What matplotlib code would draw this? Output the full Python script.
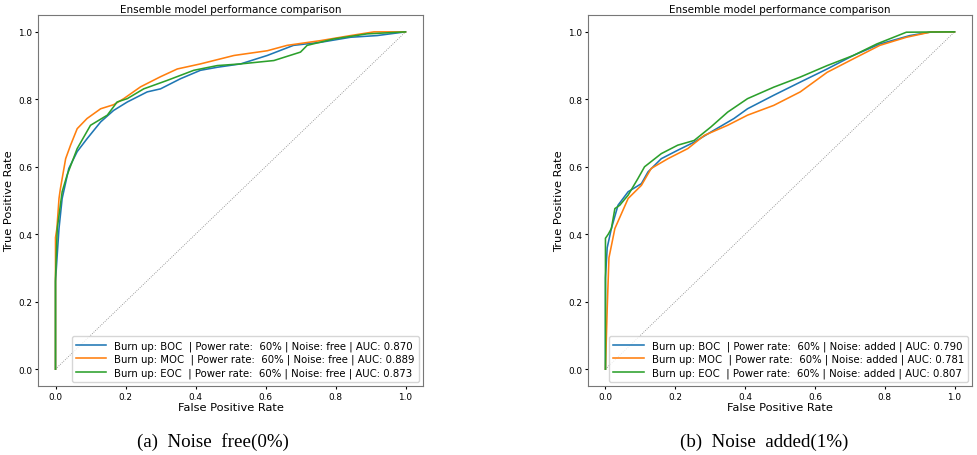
import numpy as np
import matplotlib
matplotlib.use("Agg")
import matplotlib.pyplot as plt

# ROC points: (a) noise free
fpr_boc_a = [0.0, 0.0, 0.005, 0.01, 0.019, 0.038, 0.062, 0.09, 0.129, 0.166, 0.205, 0.262,
             0.30, 0.357, 0.414, 0.462, 0.529, 0.605, 0.68, 0.757, 0.843, 0.919, 1.0]
tpr_boc_a = [0.0, 0.26, 0.34, 0.417, 0.506, 0.595, 0.645, 0.683, 0.733, 0.767, 0.792, 0.822,
             0.831, 0.861, 0.886, 0.895, 0.905, 0.930, 0.960, 0.969, 0.984, 0.989, 1.0]
fpr_moc_a = [0.0, 0.0, 0.004, 0.01, 0.014, 0.029, 0.043, 0.062, 0.09, 0.129, 0.166, 0.195,
             0.243, 0.30, 0.348, 0.414, 0.51, 0.605, 0.662, 0.757, 0.843, 0.91, 1.0]
tpr_moc_a = [0.0, 0.39, 0.417, 0.506, 0.535, 0.624, 0.664, 0.713, 0.743, 0.772, 0.784, 0.802,
             0.837, 0.867, 0.890, 0.905, 0.930, 0.944, 0.960, 0.974, 0.989, 1.0, 1.0]
fpr_eoc_a = [0.0, 0.0, 0.005, 0.019, 0.033, 0.062, 0.10, 0.148, 0.176, 0.205, 0.252, 0.319,
             0.395, 0.462, 0.529, 0.624, 0.70, 0.719, 0.795, 0.89, 1.0]
tpr_eoc_a = [0.0, 0.27, 0.417, 0.526, 0.575, 0.654, 0.723, 0.753, 0.792, 0.802, 0.831, 0.856,
             0.886, 0.900, 0.905, 0.915, 0.940, 0.960, 0.979, 0.994, 1.0]

# (b) noise added
fpr_boc_b = [0.0, 0.0, 0.005, 0.017, 0.036, 0.065, 0.103, 0.122, 0.16, 0.207, 0.254, 0.302,
             0.368, 0.407, 0.482, 0.558, 0.635, 0.71, 0.786, 0.872, 0.934, 1.0]
tpr_boc_b = [0.0, 0.27, 0.36, 0.417, 0.486, 0.526, 0.550, 0.585, 0.624, 0.649, 0.673, 0.703,
             0.743, 0.772, 0.812, 0.851, 0.890, 0.930, 0.964, 0.989, 1.0, 1.0]
fpr_moc_b = [0.0, 0.005, 0.01, 0.027, 0.065, 0.103, 0.131, 0.179, 0.236, 0.283, 0.35, 0.407,
             0.482, 0.558, 0.635, 0.71, 0.786, 0.862, 0.934, 1.0]
tpr_moc_b = [0.0, 0.18, 0.33, 0.417, 0.506, 0.545, 0.595, 0.624, 0.654, 0.693, 0.723, 0.753,
             0.782, 0.822, 0.880, 0.920, 0.960, 0.984, 1.0, 1.0]
fpr_eoc_b = [0.0, 0.0, 0.008, 0.017, 0.027, 0.041, 0.065, 0.093, 0.112, 0.16, 0.207, 0.254,
             0.302, 0.35, 0.407, 0.482, 0.558, 0.635, 0.71, 0.777, 0.862, 1.0]
tpr_eoc_b = [0.0, 0.388, 0.40, 0.417, 0.476, 0.486, 0.516, 0.565, 0.600, 0.639, 0.664, 0.678,
             0.718, 0.762, 0.802, 0.836, 0.866, 0.900, 0.930, 0.964, 0.999, 1.0]

burnups = ["BOC", "MOC", "EOC"]
auc_a = ["0.870", "0.889", "0.873"]
auc_b = ["0.790", "0.781", "0.807"]
colors = ["#1f77b4", "#ff7f0e", "#2ca02c"]

panels = [
    ([(fpr_boc_a, tpr_boc_a), (fpr_moc_a, tpr_moc_a), (fpr_eoc_a, tpr_eoc_a)], auc_a, "free",
     "(a)  Noise  free(0%)", [38/977, 69/456, 385/977, 371/456], 213),
    ([(fpr_boc_b, tpr_boc_b), (fpr_moc_b, tpr_moc_b), (fpr_eoc_b, tpr_eoc_b)], auc_b, "added",
     "(b)  Noise  added(1%)", [588/977, 69/456, 384/977, 371/456], 764),
]

fig = plt.figure(figsize=(9.77, 4.56), dpi=100)

for curves, aucs, noise, caption, rect, cx in panels:
    ax = fig.add_axes(rect)
    ax.plot([0, 1], [0, 1], color="gray", linestyle=":", linewidth=0.6)
    for (fx, ty), b, auc, c in zip(curves, burnups, aucs, colors):
        label = f"Burn up: {b}  | Power rate:  60% | Noise: {noise} | AUC: {auc}"
        ax.plot(fx, ty, color=c, linewidth=1.15, label=label)
    ax.set_xlim(-0.05, 1.05)
    ax.set_ylim(-0.05, 1.05)
    ax.set_title("Ensemble model performance comparison", fontsize=7.5, pad=2)
    ax.set_xlabel("False Positive Rate", fontsize=8.2, labelpad=1)
    ax.set_ylabel("True Positive Rate", fontsize=8.2, labelpad=3)
    ax.tick_params(labelsize=6.4, length=2, pad=2)
    for s in ax.spines.values():
        s.set_color("#777777")
        s.set_linewidth(0.8)
    ax.legend(loc="lower right", fontsize=7.3, handlelength=3, borderpad=0.4,
              labelspacing=0.3, borderaxespad=0.4)
    fig.text(cx / 977, 1 - 442 / 456, caption, ha="center", va="center",
             family="Liberation Serif", fontsize=13.7)

fig.savefig("out.png", dpi=100)
